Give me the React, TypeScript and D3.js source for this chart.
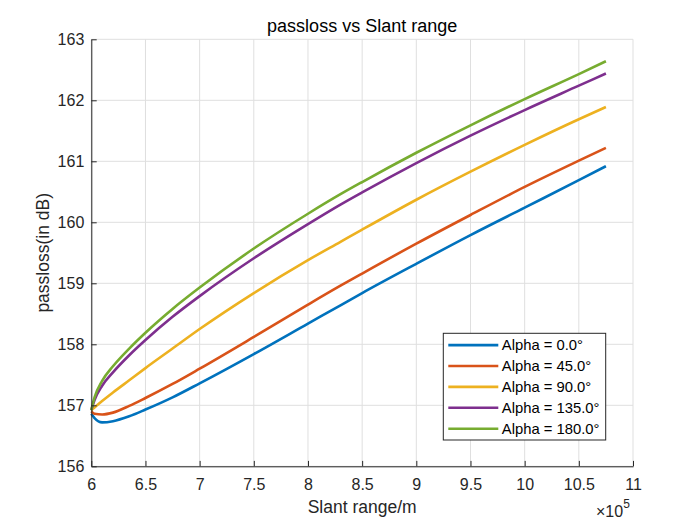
import React, { useEffect, useRef } from "react";
import * as d3 from "d3";

// slant range in metres
const slantRange = [
  6.0e5, 6.03e5, 6.1e5, 6.2e5, 6.35e5, 6.5e5, 6.75e5, 7.0e5, 7.5e5, 8.0e5,
  8.3e5, 8.5e5, 9.0e5, 9.5e5, 10.0e5, 10.5e5, 10.75e5,
];

// passloss in dB for each alpha
const alpha0 = [
  156.86, 156.79, 156.72, 156.74, 156.82, 156.93, 157.13, 157.36, 157.84,
  158.34, 158.64, 158.84, 159.32, 159.79, 160.24, 160.69, 160.92,
];
const alpha45 = [
  156.9, 156.86, 156.85, 156.88, 156.99, 157.12, 157.35, 157.6, 158.12, 158.65,
  158.96, 159.16, 159.65, 160.12, 160.58, 161.01, 161.22,
];
const alpha90 = [
  156.92, 156.965, 157.07, 157.21, 157.41, 157.61, 157.93, 158.25, 158.84,
  159.38, 159.68, 159.88, 160.37, 160.83, 161.27, 161.69, 161.89,
];
const alpha135 = [
  156.92, 157.085, 157.32, 157.54, 157.82, 158.07, 158.45, 158.79, 159.41,
  159.97, 160.29, 160.49, 160.97, 161.42, 161.84, 162.24, 162.44,
];
const alpha180 = [
  156.92, 157.13, 157.4, 157.64, 157.93, 158.19, 158.58, 158.93, 159.57,
  160.14, 160.46, 160.66, 161.14, 161.59, 162.02, 162.43, 162.64,
];

const seriesLabels = [
  "Alpha = 0.0°",
  "Alpha = 45.0°",
  "Alpha = 90.0°",
  "Alpha = 135.0°",
  "Alpha = 180.0°",
];
const seriesValues = [alpha0, alpha45, alpha90, alpha135, alpha180];
const colors = ["#0072BD", "#D95319", "#EDB120", "#7E2F8E", "#77AC30"];

const xTicks = [6, 6.5, 7, 7.5, 8, 8.5, 9, 9.5, 10, 10.5, 11].map((t) => t * 1e5);
const yTicks = [156, 157, 158, 159, 160, 161, 162, 163];

const W = 700,
  H = 525;
const margin = { left: 91.3, right: 67, top: 39.3, bottom: 58.7 };
const font = "'Liberation Sans', Arial, Helvetica, sans-serif";
const ink = "#262626";

function drawChart(el: SVGSVGElement) {
  const svg = d3.select(el);
  svg.selectAll("*").remove();

  const x = d3
    .scaleLinear()
    .domain([6e5, 11e5])
    .range([margin.left, W - margin.right]);
  const y = d3
    .scaleLinear()
    .domain([156, 163])
    .range([H - margin.bottom, margin.top]);

  svg.append("rect").attr("width", W).attr("height", H).attr("fill", "#fff");

  // grid
  const grid = svg.append("g").attr("stroke", "#dfdfdf").attr("stroke-width", 1);
  grid
    .selectAll(".gx")
    .data(xTicks)
    .enter()
    .append("line")
    .attr("x1", (d) => x(d))
    .attr("x2", (d) => x(d))
    .attr("y1", y(156))
    .attr("y2", y(163));
  grid
    .selectAll(".gy")
    .data(yTicks)
    .enter()
    .append("line")
    .attr("x1", x(6e5))
    .attr("x2", x(11e5))
    .attr("y1", (d) => y(d))
    .attr("y2", (d) => y(d));

  // lines
  const line = d3
    .line<number>()
    .x((_, i) => x(slantRange[i]))
    .y((d) => y(d))
    .curve(d3.curveMonotoneX);

  seriesValues.forEach((vals, k) => {
    svg
      .append("path")
      .datum(vals)
      .attr("fill", "none")
      .attr("stroke", colors[k])
      .attr("stroke-width", 2.6)
      .attr("stroke-linejoin", "round")
      .attr("d", line);
  });

  // axes (inward ticks, box off)
  const xAxis = svg
    .append("g")
    .attr("transform", `translate(0,${y(156)})`)
    .call(
      d3
        .axisBottom(x)
        .tickValues(xTicks)
        .tickSizeInner(-5.4)
        .tickSizeOuter(0)
        .tickPadding(12)
        .tickFormat((d) => d3.format("")(+d / 1e5))
    );
  const yAxis = svg
    .append("g")
    .attr("transform", `translate(${x(6e5)},0)`)
    .call(
      d3
        .axisLeft(y)
        .tickValues(yTicks)
        .tickSizeInner(-5.4)
        .tickSizeOuter(0)
        .tickPadding(7)
        .tickFormat(d3.format("d"))
    );
  [xAxis, yAxis].forEach((g) => {
    g.select(".domain").attr("stroke", ink).attr("stroke-width", 1);
    g.selectAll(".tick line").attr("stroke", ink).attr("stroke-width", 1);
    g.selectAll(".tick text")
      .attr("fill", ink)
      .style("font-family", font)
      .style("font-size", "16px");
  });

  // exponent label
  const ex = svg
    .append("text")
    .attr("x", 596)
    .attr("y", 517)
    .attr("fill", ink)
    .style("font-family", font)
    .style("font-size", "16px");
  ex.append("tspan").text("×10");
  ex.append("tspan").attr("dy", -9).style("font-size", "12px").text("5");

  // title & labels
  svg
    .append("text")
    .attr("x", (margin.left + W - margin.right) / 2)
    .attr("y", 31.5)
    .attr("text-anchor", "middle")
    .attr("fill", "#000")
    .style("font-family", font)
    .style("font-size", "18px")
    .text("passloss vs Slant range");

  svg
    .append("text")
    .attr("x", (margin.left + W - margin.right) / 2)
    .attr("y", 513)
    .attr("text-anchor", "middle")
    .attr("fill", ink)
    .style("font-family", font)
    .style("font-size", "17.5px")
    .text("Slant range/m");

  svg
    .append("text")
    .attr(
      "transform",
      `translate(48.5,${(margin.top + H - margin.bottom) / 2}) rotate(-90)`
    )
    .attr("text-anchor", "middle")
    .attr("fill", ink)
    .style("font-family", font)
    .style("font-size", "17.5px")
    .text("passloss(in dB)");

  // legend
  const lg = svg.append("g").attr("transform", "translate(443.3,333.3)");
  lg.append("rect")
    .attr("width", 162.4)
    .attr("height", 106.7)
    .attr("fill", "#fff")
    .attr("stroke", ink)
    .attr("stroke-width", 1);
  const rows = lg
    .selectAll(".row")
    .data(seriesLabels)
    .enter()
    .append("g")
    .attr("transform", (_, i) => `translate(0,${11.8 + i * 20.9})`);
  rows
    .append("line")
    .attr("x1", 5)
    .attr("x2", 55)
    .attr("stroke", (_, i) => colors[i])
    .attr("stroke-width", 2.6);
  rows
    .append("text")
    .attr("x", 58.5)
    .attr("dy", "0.36em")
    .attr("fill", "#000")
    .style("font-family", font)
    .style("font-size", "14.8px")
    .text((d) => d);
}

export default function App() {
  const ref = useRef<SVGSVGElement>(null);
  useEffect(() => {
    if (ref.current) drawChart(ref.current);
  }, []);
  return (
    <svg
      ref={ref}
      width={W}
      height={H}
      style={{ position: "absolute", left: 0, top: 0 }}
    />
  );
}
